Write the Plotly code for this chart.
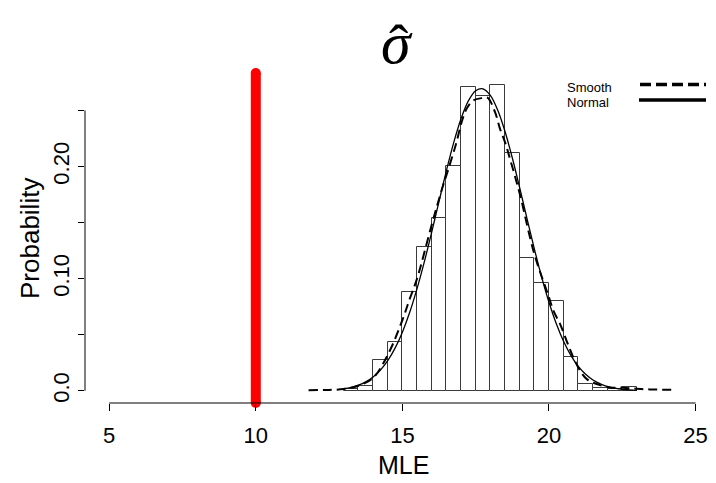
import numpy as np
import plotly.graph_objects as go

# Histogram of the MLE values (density scale, bin width 0.5)
bin_edges = [13.0, 13.5, 14.0, 14.5, 15.0, 15.5, 16.0, 16.5, 17.0, 17.5, 18.0,
             18.5, 19.0, 19.5, 20.0, 20.5, 21.0, 21.5, 22.0, 22.5, 23.0]
bin_density = [0.0013, 0.0039, 0.0278, 0.0437, 0.0880, 0.1285, 0.1545, 0.2003,
               0.2705, 0.2625, 0.2725, 0.2120, 0.1180, 0.0962, 0.0800, 0.0300,
               0.0062, 0.0022, 0.0012, 0.0036]

# Fitted normal density
normal_x = [13.0, 13.25, 13.5, 13.75, 14.0, 14.25, 14.5, 14.75, 15.0, 15.25,
            15.5, 15.75, 16.0, 16.25, 16.5, 16.75, 17.0, 17.25, 17.5, 17.75,
            18.0, 18.25, 18.5, 18.75, 19.0, 19.25, 19.5, 19.75, 20.0, 20.25,
            20.5, 20.75, 21.0, 21.25, 21.5, 21.75, 22.0, 22.25, 22.5, 22.75, 23.0]
normal_y = [0.0018, 0.0031, 0.0050, 0.0079, 0.0123, 0.0184, 0.0268, 0.0380,
            0.0523, 0.0700, 0.0911, 0.1152, 0.1415, 0.1690, 0.1962, 0.2213,
            0.2426, 0.2585, 0.2676, 0.2693, 0.2634, 0.2503, 0.2312, 0.2076,
            0.1811, 0.1536, 0.1266, 0.1014, 0.0789, 0.0597, 0.0439, 0.0314,
            0.0218, 0.0147, 0.0096, 0.0062, 0.0038, 0.0023, 0.0013, 0.0008, 0.0004]

# Kernel density estimate
smooth_x = [11.8, 12.5, 13.0, 13.5, 14.0, 14.5, 15.0, 15.25, 15.5, 16.0, 16.34,
            16.62, 16.85, 17.02, 17.19, 17.42, 17.70, 17.90, 18.16, 18.33, 18.50,
            18.67, 19.0, 19.5, 20.0, 20.15, 20.38, 20.60, 20.83, 21.06, 21.29,
            21.63, 22.08, 22.53, 22.99, 23.44, 24.24]
smooth_y = [0.0005, 0.0008, 0.0015, 0.0045, 0.0115, 0.0320, 0.0630, 0.0820,
            0.1000, 0.1480, 0.1790, 0.2020, 0.2220, 0.2396, 0.2515, 0.2589,
            0.2610, 0.2615, 0.2485, 0.2336, 0.2217, 0.2068, 0.1760, 0.1220,
            0.0833, 0.0714, 0.0595, 0.0446, 0.0298, 0.0179, 0.0104, 0.0060,
            0.0030, 0.0027, 0.0018, 0.0012, 0.0008]

true_value = 10

x_ticks = [5, 10, 15, 20, 25]
y_ticks = [0.0, 0.05, 0.10, 0.15, 0.20, 0.25]
y_tick_text = ["0.0", "", "0.10", "", "0.20", ""]

x_range = [4.175, 25.696]
y_range = [-0.0109, 0.2834]

W, H = 716, 483
L, R, T, B = 85, 0, 73, 80
pw, ph = W - L - R, H - T - B


def px(xp):
    return (xp - L) / pw


def py(yp):
    return (H - B - yp) / ph


sans = "Liberation Sans, Arial, Helvetica, sans-serif"
serif = "Liberation Serif, Times New Roman, serif"

centers = [(a + b) / 2 for a, b in zip(bin_edges[:-1], bin_edges[1:])]
widths = [b - a for a, b in zip(bin_edges[:-1], bin_edges[1:])]

fig = go.Figure()

fig.add_trace(go.Bar(
    x=centers, y=bin_density, width=widths,
    marker=dict(color="white", line=dict(color="#3a3a3a", width=1)),
    showlegend=False, hoverinfo="skip",
))

fig.add_trace(go.Scatter(
    x=smooth_x, y=smooth_y, mode="lines",
    line=dict(color="black", width=2, dash="9px,5px", shape="spline"),
    showlegend=False, hoverinfo="skip",
))

fig.add_trace(go.Scatter(
    x=normal_x, y=normal_y, mode="lines",
    line=dict(color="black", width=1.3, shape="spline"),
    showlegend=False, hoverinfo="skip",
))

# vertical reference line at the true value, with rounded ends
fig.add_trace(go.Scatter(
    x=[true_value, true_value], y=y_range, mode="lines+markers",
    line=dict(color="#ff0000", width=10),
    marker=dict(color="#ff0000", size=10, line=dict(width=0)),
    cliponaxis=False, showlegend=False, hoverinfo="skip",
))

shapes = [
    # axis lines spanning only the tick range
    dict(type="line", xref="x", yref="paper", x0=x_ticks[0], x1=x_ticks[-1],
         y0=0, y1=0, line=dict(color="black", width=1)),
    dict(type="line", xref="paper", yref="y", x0=0, x1=0,
         y0=y_ticks[0], y1=y_ticks[-1], line=dict(color="black", width=1)),
    # legend keys
    dict(type="line", xref="paper", yref="paper", x0=px(640), x1=px(706),
         y0=py(84.5), y1=py(84.5), line=dict(color="black", width=3.5, dash="11px,5px")),
    dict(type="line", xref="paper", yref="paper", x0=px(639), x1=px(706),
         y0=py(100), y1=py(100), line=dict(color="black", width=3.5)),
]

annotations = [
    dict(text="Smooth", xref="paper", yref="paper", x=px(565), y=py(87.5),
         xanchor="left", yanchor="middle", showarrow=False,
         font=dict(family=sans, size=13, color="black")),
    dict(text="Normal", xref="paper", yref="paper", x=px(565), y=py(102.5),
         xanchor="left", yanchor="middle", showarrow=False,
         font=dict(family=sans, size=13, color="black")),
    dict(text="MLE", xref="paper", yref="paper", x=px(403), y=py(465),
         xanchor="center", yanchor="middle", showarrow=False,
         font=dict(family=sans, size=25, color="black")),
    dict(text="Probability", xref="paper", yref="paper", x=px(30), y=py(238),
         xanchor="center", yanchor="middle", textangle=-90, showarrow=False,
         font=dict(family=sans, size=26, color="black")),
    # title: sigma with a hat
    dict(text="<i>σ</i>", xref="paper", yref="paper", x=px(397), y=py(43),
         xanchor="center", yanchor="middle", showarrow=False,
         font=dict(family=serif, size=60, color="black")),
    dict(text="ˆ", xref="paper", yref="paper", x=px(398), y=py(45),
         xanchor="center", yanchor="middle", showarrow=False,
         font=dict(family=serif, size=58, color="black")),
]

fig.update_layout(
    width=W, height=H,
    margin=dict(l=L, r=R, t=T, b=B, pad=0),
    paper_bgcolor="white", plot_bgcolor="white",
    bargap=0,
    showlegend=False,
    shapes=shapes,
    annotations=annotations,
    xaxis=dict(range=x_range, tickvals=x_ticks, ticktext=[str(v) for v in x_ticks],
               ticks="outside", ticklen=7, tickwidth=1, tickcolor="black",
               ticklabelstandoff=6,
               showline=False, showgrid=False, zeroline=False,
               tickfont=dict(family=sans, size=22, color="black")),
    yaxis=dict(range=y_range, tickvals=y_ticks, ticktext=y_tick_text,
               ticks="outside", ticklen=6, tickwidth=1, tickcolor="black",
               tickangle=-90,
               showline=False, showgrid=False, zeroline=False,
               tickfont=dict(family=sans, size=22, color="black")),
)

fig.write_html("out.html")
